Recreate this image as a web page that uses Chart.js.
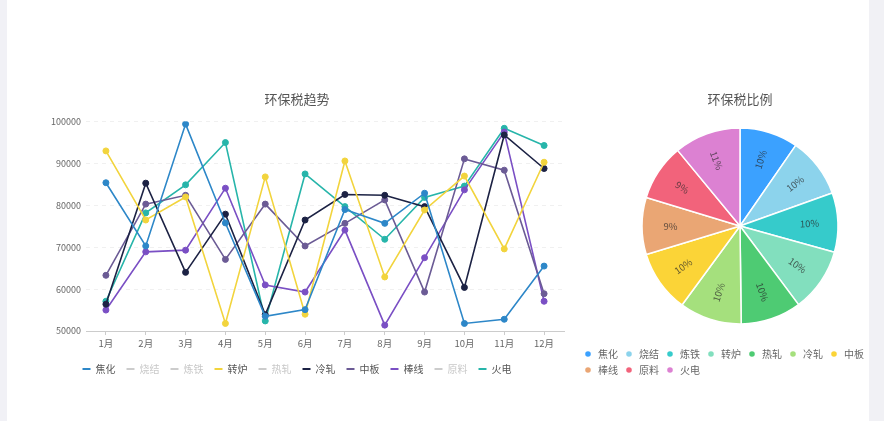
<!DOCTYPE html>
<html>
<head>
<meta charset="utf-8">
<script src="https://cdn.jsdelivr.net/npm/chart.js@4"></script>
<style>
  html, body { margin: 0; padding: 0; background: #ffffff; overflow: hidden; width: 884px; height: 421px; }
  #stripL { position: absolute; left: 0; top: 0; width: 7px; height: 421px; background: #f1f1f6; }
  #stripR { position: absolute; left: 869px; top: 0; width: 15px; height: 421px; background: #f1f1f5; }
  #lineBox { position: absolute; left: 30px; top: 85px; width: 540px; height: 299px; }
  #pieBox { position: absolute; left: 577px; top: 85px; width: 326px; height: 300px; }
</style>
</head>
<body>
<div id="stripL"></div>
<div id="stripR"></div>
<div id="lineBox"><canvas id="lineChart"></canvas></div>
<div id="pieBox"><canvas id="pieChart"></canvas></div>
<script>
// ---- data ----
const months = ['1月','2月','3月','4月','5月','6月','7月','8月','9月','10月','11月','12月'];
const seriesNames = ['焦化','烧结','炼铁','转炉','热轧','冷轧','中板','棒线','原料','火电'];

// visible series
const jiaohua  = [85400, 70300, 99400, 75800, 53500, 55100, 79000, 75700, 82900, 51800, 52800, 65500];
const zhuanlu  = [93000, 76500, 82000, 51800, 86800, 54000, 90600, 62900, 78900, 87000, 69600, 90300];
const lengzha  = [56400, 85300, 64000, 77900, 53900, 76500, 82600, 82400, 79700, 60400, 96800, 88800];
const zhongban = [63300, 80300, 82400, 67100, 80300, 70300, 75700, 81300, 59300, 91100, 88400, 58900];
const bangxian = [55000, 68900, 69300, 84100, 61000, 59300, 74100, 51400, 67500, 83700, 97500, 57100];
const huodian  = [57100, 78200, 84900, 95000, 52400, 87500, 79700, 71900, 81900, 84600, 98400, 94300];
// series switched off in the reference legend (values not shown)
const shaojie = [];
const liantie = [];
const rezha   = [];
const yuanliao = [];

// pie totals (estimated from slice angles / labels)
const pieValues = [847200, 871000, 862000, 923400, 880000, 904700, 898400, 828900, 820000, 965900];

const yTicks = { min: 50000, max: 100000, step: 10000 };

// ---- styles ----
const lineColors = ['#2d87c8', '#cccccc', '#cccccc', '#f2d43d', '#cccccc', '#1c2244', '#6b5b95', '#7a4fc4', '#cccccc', '#27b5aa'];
const pieColors = ['#3BA1FF', '#8CD3EC', '#36CBCB', '#82DFBE', '#4ECB73', '#A5E07D', '#FBD437', '#EAA674', '#F2637B', '#DC81D2'];
const FONT = '"Noto Sans CJK SC", "Noto Sans", sans-serif';

const seriesData = [jiaohua, shaojie, liantie, zhuanlu, rezha, lengzha, zhongban, bangxian, yuanliao, huodian];
const hiddenFlags = [false, true, true, false, true, false, false, false, true, false];

const lineDatasets = seriesNames.map((name, i) => ({
  label: name,
  data: seriesData[i],
  hidden: hiddenFlags[i],
  borderColor: lineColors[i],
  backgroundColor: lineColors[i],
  pointBackgroundColor: lineColors[i],
  pointBorderColor: lineColors[i],
  borderWidth: 1.6,
  pointRadius: 3,
  pointBorderWidth: 1,
  tension: 0,
  fill: false
}));

new Chart(document.getElementById('lineChart'), {
  type: 'line',
  data: { labels: months, datasets: lineDatasets },
  options: {
    responsive: true,
    maintainAspectRatio: false,
    animation: false,
    layout: { padding: { right: 6 } },
    plugins: {
      title: {
        display: true, text: '环保税趋势', color: '#555555',
        font: { family: FONT, size: 13, weight: 'normal' },
        padding: { top: 6, bottom: 15 }
      },
      legend: {
        position: 'bottom',
        labels: {
          boxWidth: 8, boxHeight: 2, padding: 11,
          font: { family: FONT, size: 10 },
          generateLabels(chart) {
            return chart.data.datasets.map((ds, i) => {
              const off = hiddenFlags[i];
              return {
                text: ds.label,
                fillStyle: off ? '#cccccc' : ds.borderColor,
                strokeStyle: off ? '#cccccc' : ds.borderColor,
                lineWidth: 0,
                hidden: false,
                fontColor: off ? '#c8c8c8' : '#555555',
                datasetIndex: i
              };
            });
          }
        },
        onClick() {}
      },
      tooltip: { enabled: false }
    },
    scales: {
      x: {
        offset: true,
        grid: { display: true, drawOnChartArea: false, drawTicks: true, tickLength: 4, color: '#cccccc' },
        border: { display: true, color: '#cccccc' },
        ticks: { color: '#666666', font: { family: FONT, size: 9.5 }, padding: 3, maxRotation: 0 },
        afterFit(scale) { scale.height = 22; }
      },
      y: {
        min: yTicks.min, max: yTicks.max,
        ticks: {
          stepSize: yTicks.step, color: '#666666', font: { family: FONT, size: 9 }, padding: 5,
          callback(v) { return String(v); }
        },
        grid: { color: 'rgba(0,0,0,0.06)', drawTicks: false },
        border: { display: false, dash: [4, 4] },
        afterFit(scale) { scale.width = 56; }
      }
    }
  }
});

// percentage labels drawn radially inside the slices
const radialLabels = {
  id: 'radialLabels',
  afterDatasetsDraw(chart) {
    const ctx = chart.ctx;
    const meta = chart.getDatasetMeta(0);
    const vals = chart.data.datasets[0].data;
    const total = vals.reduce((a, b) => a + b, 0);
    ctx.save();
    ctx.font = '9.5px ' + FONT;
    ctx.fillStyle = 'rgba(40,40,40,0.72)';
    ctx.textAlign = 'center';
    ctx.textBaseline = 'middle';
    meta.data.forEach((arc, i) => {
      const p = arc.getProps(['x', 'y', 'startAngle', 'endAngle', 'outerRadius'], true);
      const mid = (p.startAngle + p.endAngle) / 2;
      const r = p.outerRadius * 0.71;
      const x = p.x + Math.cos(mid) * r;
      const y = p.y + Math.sin(mid) * r;
      let rot = mid;
      if (Math.cos(mid) < 0) rot += Math.PI;
      ctx.save();
      ctx.translate(x, y);
      ctx.rotate(rot);
      ctx.fillText(Math.round(vals[i] / total * 100) + '%', 0, 0);
      ctx.restore();
    });
    ctx.restore();
  }
};

new Chart(document.getElementById('pieChart'), {
  type: 'pie',
  data: {
    labels: seriesNames,
    datasets: [{
      data: pieValues,
      backgroundColor: pieColors,
      borderColor: '#ffffff',
      borderWidth: 1.5
    }]
  },
  options: {
    responsive: true,
    maintainAspectRatio: false,
    animation: false,
    radius: 98,
    plugins: {
      title: {
        display: true, text: '环保税比例', color: '#555555',
        font: { family: FONT, size: 13, weight: 'normal' },
        padding: { top: 6, bottom: 2.4 }
      },
      legend: {
        position: 'bottom',
        align: 'start',
        labels: {
          usePointStyle: true, pointStyle: 'circle',
          boxWidth: 10, boxHeight: 5, padding: 6,
          color: '#666666',
          font: { family: FONT, size: 10 }
        },
        onClick() {}
      },
      tooltip: { enabled: false }
    }
  },
  plugins: [radialLabels]
});
</script>
</body>
</html>
